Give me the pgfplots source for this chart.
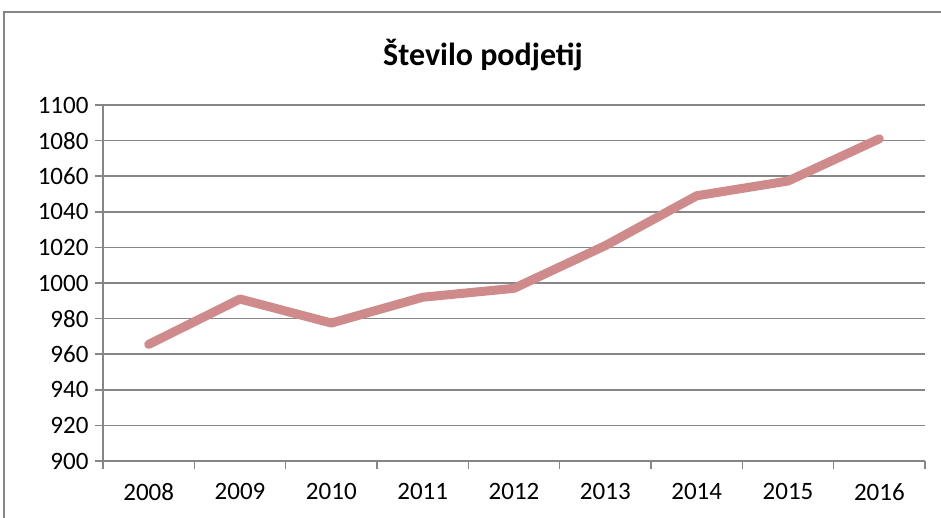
\documentclass[border=0pt]{standalone}
\usepackage{fontspec}
\setmainfont{Carlito}
\usepackage{pgfplots}
\pgfplotsset{compat=1.18}
\definecolor{linec}{RGB}{207,139,139}
\definecolor{gridc}{RGB}{134,134,134}
\definecolor{framec}{RGB}{134,134,134}
\begin{document}
\begin{tikzpicture}[x=1pt,y=1pt]
\path[use as bounding box] (0,0) rectangle (941,518);
\draw[framec, line width=1.5pt] (4,-10) -- (4,506) -- (950,506);
\node[font=\fontsize{32}{38}\selectfont\bfseries] at (483,463) {Število podjetij};
\begin{axis}[at={(103pt,57pt)}, anchor=south west, scale only axis,
  width=822pt, height=356pt,
  xmin=-0.5, xmax=8.5, ymin=900, ymax=1100,
  ytick={900,920,...,1100},
  axis x line*=bottom, axis y line*=left,
  axis line style={gridc, line width=1.5pt},
  ymajorgrids, grid style={gridc, line width=1.5pt},
  tick align=outside, major tick length=8pt,
  tick style={gridc, line width=1.5pt},
  xtick={-0.5,0.5,...,8.5}, xticklabels={},
  extra x ticks={0,1,2,3,4,5,6,7,8},
  extra x tick labels={2008,2009,2010,2011,2012,2013,2014,2015,2016},
  extra x tick style={major tick length=0pt, xticklabel style={yshift=-19pt}},
  ticklabel style={font=\fontsize{25}{30}\selectfont, text=black},
  yticklabel style={xshift=-3pt},
  /pgf/number format/assume math mode=true,
  /pgf/number format/1000 sep={},
  clip=false,
]
\addplot[linec, line width=9pt, line cap=round, line join=round] coordinates {
(0,965.5) (1,991) (2,977.5) (3,992) (4,997) (5,1021) (6,1049) (7,1057.3) (8,1081)
};
\end{axis}
\end{tikzpicture}
\end{document}
